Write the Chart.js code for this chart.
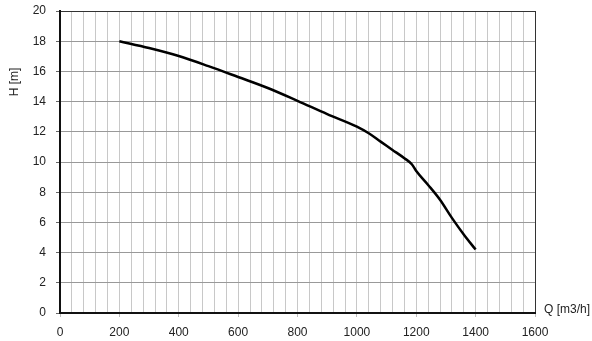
<!DOCTYPE html>
<html>
<head>
<meta charset="utf-8">
<script src="https://cdn.jsdelivr.net/npm/chart.js@4/dist/chart.umd.min.js"></script>
<style>
  body { margin: 0; background: #fff; }
  canvas { display: block; }
</style>
</head>
<body>
<canvas id="pumpChart" width="592" height="341"></canvas>
<script>
// pump curve H over Q
var flow = [200, 300, 400, 500, 600, 700, 800, 900, 1000, 1040, 1080, 1120, 1160, 1185, 1200, 1240, 1280, 1320, 1360, 1400];
var head = [18, 17.55, 17.02, 16.35, 15.63, 14.9, 14.05, 13.17, 12.34, 11.9, 11.35, 10.8, 10.25, 9.85, 9.4, 8.48, 7.5, 6.3, 5.2, 4.2];

var xTitle = "Q [m3/h]";
var yTitle = "H [m]";

var points = flow.map(function (q, i) { return { x: q, y: head[i] }; });

var labelFont = { family: "'Liberation Sans', Arial, sans-serif", size: 12 };

// axis titles sit beside the axes, not centred under them
var axisTitles = {
  id: 'axisTitles',
  afterDraw: function (chart) {
    var ctx = chart.ctx;
    var area = chart.chartArea;
    ctx.save();
    ctx.fillStyle = '#222';
    ctx.font = "12px 'Liberation Sans', Arial, sans-serif";
    ctx.textBaseline = 'middle';
    ctx.textAlign = 'left';
    ctx.fillText(xTitle, area.right + 9, area.bottom - 3);
    ctx.translate(15, area.top + (area.bottom - area.top) * 0.235);
    ctx.rotate(-Math.PI / 2);
    ctx.textAlign = 'center';
    ctx.fillText(yTitle, 0, 0);
    ctx.restore();
  }
};

var pumpChart = new Chart(document.getElementById("pumpChart"), {
  type: 'line',
  data: {
    datasets: [{
      data: points,
      borderColor: '#000',
      borderWidth: 2.5,
      pointRadius: 0,
      cubicInterpolationMode: 'monotone',
      fill: false
    }]
  },
  options: {
    responsive: false,
    animation: false,
    layout: { padding: { left: 0, right: 57, top: 11, bottom: 0 } },
    plugins: { legend: { display: false }, tooltip: { enabled: false } },
    scales: {
      x: {
        type: 'linear',
        min: 0,
        max: 1600,
        afterFit: function (s) { s.height = 28; },
        ticks: {
          stepSize: 40,
          autoSkip: false,
          maxRotation: 0,
          padding: 8,
          color: '#222',
          font: labelFont,
          callback: function (v) { return v % 200 === 0 ? v : ''; }
        },
        grid: {
          color: function (c) { return c.tick && c.tick.value === 1600 ? '#333' : '#c8c8c8'; },
          tickColor: function (c) { return c.tick && c.tick.value % 200 === 0 ? '#bbb' : 'rgba(0,0,0,0)'; },
          tickLength: 4
        },
        border: { color: '#111', width: 2 }
      },
      y: {
        min: 0,
        max: 20,
        afterFit: function (s) { s.width = 60; s.paddingTop = 0; s.paddingBottom = 0; },
        ticks: { stepSize: 2, padding: 10, color: '#222', font: labelFont },
        grid: {
          color: function (c) { return c.tick && c.tick.value === 20 ? '#333' : '#999'; },
          tickColor: '#666',
          tickLength: 4
        },
        border: { color: '#111', width: 2 }
      }
    }
  },
  plugins: [axisTitles]
});
</script>
</body>
</html>
